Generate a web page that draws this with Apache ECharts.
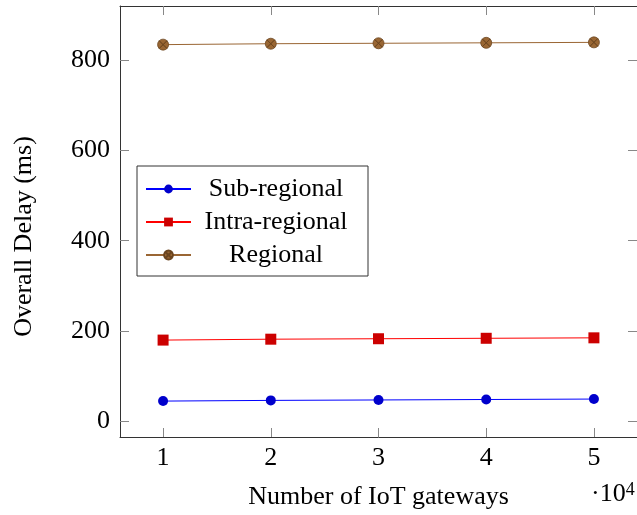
<!DOCTYPE html>
<html>
<head>
<meta charset="utf-8">
<script src="https://cdn.jsdelivr.net/npm/echarts@6/dist/echarts.min.js"></script>
<style>
html,body{margin:0;padding:0;background:#fff;}
#chart{width:637px;height:515px;}
</style>
</head>
<body>
<div id="chart"></div>
<script>
// Data (x in units of 10^4 IoT gateways)
var gateways = [1, 2, 3, 4, 5];
var subRegional = [45, 46.5, 47.5, 48.5, 49.5];
var intraRegional = [180, 182, 183, 184, 185];
var regional = [834, 836, 837, 838, 839];
var xTicks = [1, 2, 3, 4, 5];
var yTicks = [0, 200, 400, 600, 800];
var seriesNames = ['Sub-regional', 'Intra-regional', 'Regional'];

function pairs(xs, ys) { return xs.map(function (x, i) { return [x, ys[i]]; }); }

var FONT = '"Liberation Serif", "DejaVu Serif", serif';
var FS = 26;
var otimes = 'path://M10,10 L2.929,2.929 A10,10 0 0,1 17.071,2.929 Z M10,10 L17.071,2.929 A10,10 0 0,1 17.071,17.071 Z M10,10 L17.071,17.071 A10,10 0 0,1 2.929,17.071 Z M10,10 L2.929,17.071 A10,10 0 0,1 2.929,2.929 Z';

var chart = echarts.init(document.getElementById('chart'), null, {renderer: 'canvas'});
function tickStyle(vals) { return {show: true, inside: true, length: 9, customValues: vals, lineStyle: {color: '#888', width: 1}}; }
var lineAx = {show: true, onZero: false, lineStyle: {color: '#333', width: 1}};

chart.setOption({
  animation: false,
  backgroundColor: '#fff',
  grid: {left: 120, top: 6, width: 518, height: 431, containLabel: false},
  xAxis: [{
    type: 'value', position: 'bottom', min: 0.6, max: 5.4,
    axisLine: lineAx,
    axisTick: tickStyle(xTicks),
    axisLabel: {customValues: xTicks, fontFamily: FONT, fontSize: FS, color: '#000', margin: 8},
    splitLine: {show: false},
    name: 'Number of IoT gateways', nameLocation: 'middle', nameGap: 47,
    nameTextStyle: {fontFamily: FONT, fontSize: FS, color: '#000'}
  }, {
    type: 'value', position: 'top', min: 0.6, max: 5.4,
    axisLine: lineAx,
    axisTick: tickStyle(xTicks),
    axisLabel: {show: false}, splitLine: {show: false}
  }],
  yAxis: [{
    type: 'value', position: 'left', min: -34.5, max: 919.5,
    axisLine: lineAx,
    axisTick: tickStyle(yTicks),
    axisLabel: {customValues: yTicks, fontFamily: FONT, fontSize: FS, color: '#000', margin: 10},
    splitLine: {show: false},
    name: 'Overall Delay (ms)', nameLocation: 'middle', nameGap: 83, nameRotate: 90,
    nameTextStyle: {fontFamily: FONT, fontSize: FS, color: '#000', padding: [0, 30, 0, 0]}
  }, {
    type: 'value', position: 'right', min: -34.5, max: 919.5,
    axisLine: lineAx,
    axisTick: tickStyle(yTicks),
    axisLabel: {show: false}, splitLine: {show: false}
  }],
  legend: {
    data: seriesNames,
    orient: 'vertical', left: 137, top: 166,
    padding: [10, 12, 8, 8],
    itemGap: 7, itemWidth: 45, itemHeight: 11,
    borderColor: '#333', borderWidth: 1, backgroundColor: '#fff',
    formatter: function (n) { return '{t|' + n + '}'; },
    textStyle: {
      fontFamily: FONT, fontSize: FS, color: '#000',
      rich: {t: {width: 160, align: 'center', fontFamily: FONT, fontSize: FS, lineHeight: 22, color: '#000'}}
    }
  },
  graphic: [{
    type: 'text', left: 591, top: 481,
    style: {
      text: '·10{s|4}', fontFamily: FONT, fontSize: FS, fill: '#000',
      rich: {s: {fontFamily: FONT, fontSize: 18, verticalAlign: 'top', fill: '#000', padding: [0, 0, 8, 0]}}
    }
  }],
  series: [{
    name: seriesNames[0], type: 'line', data: pairs(gateways, subRegional),
    symbol: 'circle', symbolSize: 10,
    lineStyle: {color: '#0000FF', width: 1},
    itemStyle: {color: '#0000CC', borderWidth: 0}
  }, {
    name: seriesNames[1], type: 'line', data: pairs(gateways, intraRegional),
    symbol: 'rect', symbolSize: 11,
    lineStyle: {color: '#FF0000', width: 1},
    itemStyle: {color: '#CC0000', borderWidth: 0}
  }, {
    name: seriesNames[2], type: 'line', data: pairs(gateways, regional),
    symbol: otimes, symbolSize: 11, symbolKeepAspect: true,
    lineStyle: {color: '#9A6634', width: 1},
    itemStyle: {color: '#996633', borderColor: '#6b4520', borderWidth: 0.8}
  }]
});
</script>
</body>
</html>
